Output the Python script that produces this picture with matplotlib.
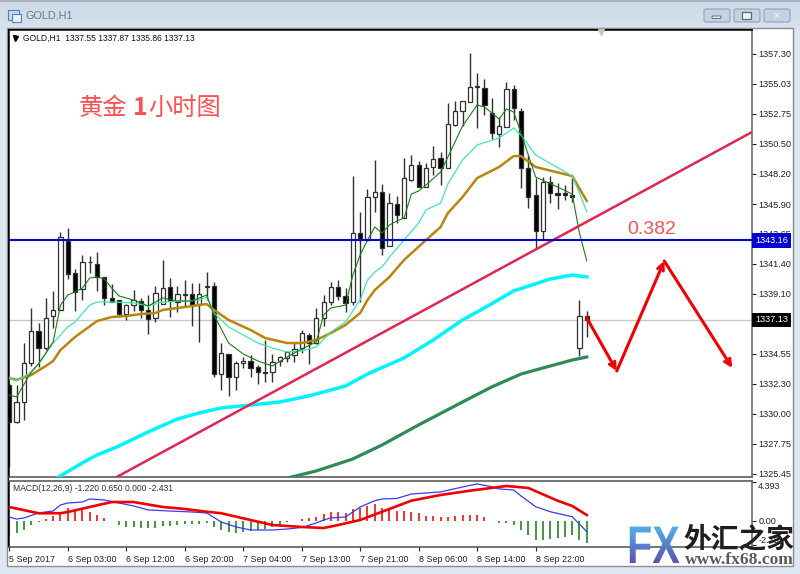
import numpy as np
import matplotlib
matplotlib.use("Agg")
import matplotlib.pyplot as plt
from matplotlib.patches import Rectangle, FancyBboxPatch, PathPatch
from matplotlib.textpath import TextPath
from matplotlib.font_manager import FontProperties
from matplotlib.transforms import Affine2D

plt.rcParams['font.family'] = ['Liberation Sans', 'DejaVu Sans']

# candles, one per hour, bar 0 = 5 Sep 2017
opens = [1332.20,1329.39,1330.91,1333.87,1336.29,1335.00,1337.43,1337.89,1343.12,1340.69,1339.48,1341.53,1341.37,1340.39,1338.80,1338.64,
         1337.58,1338.26,1338.57,1337.89,1337.28,1338.34,1339.63,1338.49,1339.10,1339.10,1338.34,1339.63,1339.71,1333.03,1334.55,1332.81,
         1333.87,1334.02,1333.56,1333.18,1333.18,1334.02,1334.25,1334.47,1335.00,1335.99,1335.38,1337.28,1338.49,1339.63,1338.95,1338.49,
         1343.72,1343.19,1346.45,1346.83,1342.74,1345.92,1344.86,1347.74,1348.88,1347.21,1348.73,1349.41,1348.65,1351.91,1352.97,1353.66,
         1354.79,1354.72,1352.82,1351.23,1351.76,1354.64,1352.97,1348.65,1346.60,1343.87,1347.59,1346.76,1346.76,1346.60,1335.00,1337.43]
highs = [1332.35,1332.20,1335.38,1338.04,1336.90,1338.80,1339.33,1343.80,1344.10,1340.99,1342.06,1341.98,1342.28,1340.39,1339.86,1338.64,
         1338.34,1339.40,1338.80,1339.02,1339.71,1341.68,1340.31,1339.71,1340.16,1339.93,1339.93,1340.77,1340.01,1335.38,1334.55,1334.02,
         1334.32,1334.47,1333.72,1335.61,1334.55,1334.40,1334.78,1335.46,1336.37,1336.14,1338.04,1339.02,1340.01,1340.16,1339.55,1348.05,
         1345.32,1347.06,1349.26,1347.44,1346.76,1346.53,1349.41,1349.64,1349.18,1349.03,1350.32,1349.87,1353.58,1353.73,1353.73,1357.37,
         1355.85,1355.40,1353.96,1352.52,1355.17,1354.95,1353.20,1349.64,1347.89,1347.97,1348.05,1347.52,1347.36,1347.89,1338.64,1337.81]
lows = [1325.98,1329.32,1329.55,1333.64,1333.56,1334.85,1336.52,1337.89,1340.24,1337.81,1338.64,1340.69,1339.33,1338.26,1338.49,1337.35,
        1337.13,1337.81,1337.28,1336.07,1336.98,1338.34,1337.35,1337.73,1338.11,1336.67,1335.46,1338.64,1332.81,1331.82,1331.37,1331.82,
        1333.49,1332.81,1332.27,1332.43,1332.43,1333.64,1333.94,1333.94,1334.63,1333.79,1335.31,1336.67,1338.26,1338.64,1337.73,1338.26,
        1338.49,1343.12,1345.32,1342.06,1342.74,1344.48,1344.86,1347.67,1347.21,1347.21,1348.12,1347.36,1348.65,1351.84,1351.84,1353.66,
        1351.69,1352.67,1350.85,1350.24,1351.76,1352.29,1347.14,1345.62,1342.51,1343.19,1346.00,1345.54,1346.23,1346.07,1334.40,1335.84]
closes = [1329.39,1330.91,1333.87,1336.29,1335.00,1337.28,1337.89,1343.39,1340.62,1339.25,1341.53,1341.53,1340.39,1338.80,1338.49,1337.58,
          1338.26,1338.64,1337.89,1337.20,1339.17,1339.55,1338.57,1339.10,1339.02,1338.26,1339.10,1339.71,1333.03,1334.63,1332.81,1333.87,
          1334.02,1333.49,1333.18,1333.11,1333.94,1334.32,1334.70,1334.93,1336.14,1335.38,1337.28,1338.49,1339.63,1338.95,1338.42,1343.72,
          1343.19,1346.45,1346.83,1342.59,1345.99,1345.09,1347.89,1348.88,1347.21,1348.65,1349.33,1348.65,1351.99,1352.97,1353.73,1354.79,
          1354.87,1353.43,1351.31,1351.84,1354.64,1353.20,1348.65,1346.45,1343.87,1347.59,1346.76,1346.60,1346.60,1346.45,1337.43,1337.13]

# moving averages, read at the bars listed
fast_bars = [0,1,3,4,6,7,8,9,10,11,12,13,14,15,17,19,21,23,25,27,28,30,32,34,36,38,40,42,43,44,46,47,48,49,50,51,52,53,54,55,56,57,59,60,62,64,65,67,68,69,70,72,75,77,78,79]
fast_ma = [1331.44,1331.29,1333.18,1333.79,1335.46,1338.26,1339.02,1339.25,1339.55,1340.31,1340.39,1340.24,1339.55,1338.95,1338.64,1338.19,1338.80,1338.57,1338.57,1339.02,1337.51,1335.38,1334.55,1334.02,1333.64,1334.32,1334.93,1335.46,1337.51,1338.04,1338.26,1340.54,1342.06,1343.19,1344.18,1343.72,1344.33,1344.63,1344.86,1346.68,1346.91,1347.36,1348.35,1349.49,1351.84,1353.43,1353.28,1352.37,1353.13,1352.90,1351.31,1347.97,1347.21,1346.68,1343.72,1341.60]
mid_bars = [0,1,3,4,6,8,9,11,12,14,17,19,21,24,26,27,28,30,32,34,36,38,40,42,44,46,48,49,50,51,52,54,56,57,59,60,62,64,67,69,70,72,77,78,79]
mid_ma = [1332.73,1332.50,1333.18,1333.79,1335.38,1336.60,1336.98,1338.26,1338.49,1338.49,1338.42,1338.19,1338.49,1338.57,1338.64,1338.87,1337.66,1336.60,1335.99,1335.38,1335.00,1334.70,1334.78,1335.08,1336.22,1336.98,1338.64,1340.16,1340.77,1341.15,1341.90,1343.19,1344.48,1345.47,1346.00,1347.44,1349.26,1350.40,1350.93,1351.69,1351.15,1349.64,1348.05,1346.76,1345.32]
gold_bars = [0,1,3,5,6,7,9,12,14,16,18,20,21,24,27,28,30,33,35,38,40,42,44,46,48,49,50,52,54,57,59,60,62,64,67,69,70,72,77,79]
gold_ma = [1332.73,1332.58,1332.96,1333.64,1334.02,1334.85,1335.84,1337.05,1337.35,1337.43,1337.58,1337.66,1337.89,1338.11,1338.34,1337.89,1337.13,1336.37,1335.76,1335.38,1335.38,1335.61,1336.14,1336.75,1337.66,1338.64,1339.40,1340.39,1341.68,1343.19,1344.18,1345.24,1346.45,1347.89,1348.73,1349.56,1349.56,1348.73,1348.05,1346.15]
cyan_bars = [6,7,10,12,15,19,23,26,29,33,37,41,46,49,54,58,62,65,69,74,77,79]
cyan_ma = [1325.00,1325.30,1326.29,1326.89,1327.57,1328.64,1329.62,1330.08,1330.46,1330.68,1330.91,1331.37,1332.12,1333.03,1334.25,1335.61,1337.13,1338.04,1339.33,1340.24,1340.54,1340.39]
slow_bars = [37,42,47,51,56,62,66,70,74,77,79]
slow_ma = [1325.00,1325.68,1326.59,1327.65,1329.17,1330.91,1332.05,1333.03,1333.64,1334.09,1334.32]

# hand drawn objects on the chart
fib_level = 1343.16
last_price = 1337.13
trend_bars = [14.46, 101.6]
trend_prices = [1325.15, 1351.38]
arrow_bars = [79.0, 83.1, 89.6, 98.9]
arrow_prices = [1337.28, 1333.26, 1341.60, 1333.49]

# macd panel
macd_hist = [-1.57,-1.38,-1.01,-0.45,-0.08,0.19,0.60,0.75,1.43,1.16,1.31,1.01,0.67,0.30,0.0,-0.45,-0.64,-0.67,-0.75,-0.82,-0.75,-0.53,-0.53,-0.42,-0.37,-0.34,-0.30,-0.19,-0.71,-1.01,
             -1.20,-1.31,-1.24,-1.12,-1.04,-0.93,-0.67,-0.45,-0.08,0.03,0.19,0.30,0.48,0.79,0.98,0.98,0.87,1.31,1.43,1.72,1.88,1.43,1.31,1.16,1.09,0.98,0.87,0.60,0.60,0.42,
             0.48,0.56,0.67,0.67,0.67,0.42,0.03,-0.19,-0.26,-0.48,-1.01,-1.61,-2.13,-2.13,-2.02,-1.91,-1.83,-1.57,-2.13,-2.43]
macd_bars = [0,1,2,4,6,7,8,10,11,13,15,17,19,22,25,27,29,31,33,36,38,40,42,43,44,46,48,50,51,53,55,59,62,64,66,67,69,70,72,74,77,79]
macd_line = [0.45,0.22,0.34,0.90,1.12,1.80,2.02,2.13,2.47,2.36,2.02,1.69,1.24,1.12,1.01,0.90,-0.11,-0.67,-1.01,-1.01,-0.90,-0.73,-0.22,0.11,0.34,0.45,1.57,2.28,2.47,2.53,3.03,3.26,3.82,4.16,3.85,3.60,3.48,2.81,1.61,1.04,0.48,-1.20]
signal_bars = [0,4,7,8,11,14,17,21,24,27,29,33,36,40,43,45,48,52,55,59,63,67,68,71,75,77,79]
signal_line = [1.57,0.87,0.87,1.01,1.57,2.13,2.13,1.57,1.35,1.04,0.87,0.11,-0.45,-0.67,-0.79,-0.45,0.11,1.35,2.28,2.92,3.40,3.82,3.93,3.71,2.28,1.69,0.67]

price_ticks = [1357.30,1355.03,1352.75,1350.50,1348.20,1345.90,1343.65,1341.40,1339.10,1336.85,1334.55,1332.30,1330.00,1327.75,1325.45]
price_labels = ['%.2f' % p for p in price_ticks]
time_ticks = [0,8,16,24,32,40,48,56,64,72]
time_labels = ['5 Sep 2017','6 Sep 03:00','6 Sep 12:00','6 Sep 20:00','7 Sep 04:00','7 Sep 13:00','7 Sep 21:00','8 Sep 06:00','8 Sep 14:00','8 Sep 22:00']
macd_ticks = [4.393, 0.0, -2.75]
macd_labels = ['4.393', '0.00', '-2.75']

W, H = 800, 574
fig = plt.figure(figsize=(8, 5.74), dpi=100, facecolor='#dce7f3')

def box(l, t, r, b):
    return [l / W, 1 - b / H, (r - l) / W, (b - t) / H]

# window chrome, pixel coordinates
bg = fig.add_axes([0, 0, 1, 1], zorder=-1)
bg.set_xlim(0, W)
bg.set_ylim(H, 0)
bg.axis('off')
grad = np.linspace(0, 1, 30).reshape(-1, 1, 1) * np.array([[[0.05, 0.035, 0.02]]]) + np.array([[[0.80, 0.85, 0.91]]])
bg.imshow(grad, extent=[0, W, 30, 0], aspect='auto', zorder=0)
bg.set_xlim(0, W)
bg.set_ylim(H, 0)
bg.add_patch(Rectangle((0, 0), W, 2, fc='#aab4bf', ec='none', zorder=1))
bg.add_patch(Rectangle((6.5, 27.5), 786, 538, fc='white', ec='#8d8d8d', lw=1, zorder=1))
bg.add_patch(Rectangle((8, 29), 745, 1.2, fc='black', ec='none', zorder=2))
bg.add_patch(Rectangle((8, 29), 1.2, 518, fc='black', ec='none', zorder=2))
bg.text(25, 16, 'GOLD,H1', fontsize=7.8, color='#66768a', va='center')
bg.add_patch(Rectangle((8, 10), 11, 10, fc='#c9d9ea', ec='#4f81b5', lw=0.8, zorder=2))
bg.add_patch(Rectangle((12, 14), 9, 8, fc='#e8f0f8', ec='#4f81b5', lw=0.8, zorder=2))
for left in [703, 733, 763]:
    bg.add_patch(FancyBboxPatch((left + 1, 9), 26, 13, boxstyle='round,pad=0,rounding_size=2', fc='#c4d2e2', ec='#8fa3b8', lw=0.8, zorder=2))
bg.add_patch(FancyBboxPatch((712, 16), 9, 2.5, boxstyle='round,pad=0,rounding_size=1', fc='#eef2f6', ec='#5e6a76', lw=0.7, zorder=3))
bg.add_patch(Rectangle((742, 12), 9, 6.5, fc='#eef2f6', ec='#5e6a76', lw=0.9, zorder=3))
bg.text(777, 15.5, '\u2715', fontsize=7, color='#eef2f6', ha='center', va='center', family='DejaVu Sans', zorder=3,
        fontweight='bold')

# main chart
ax = fig.add_axes(box(9, 30, 752, 477), facecolor='white')
ax.set_xlim(-0.04, 101.6)
ax.set_ylim(1325.22, 1359.12)
bars = np.arange(len(closes))
bottoms = np.minimum(opens, closes)
tops = np.maximum(opens, closes)
colors = ['white' if c > o else 'black' for o, c in zip(opens, closes)]

ax.axhline(last_price, color='#c8c8c8', lw=1, zorder=1)
ax.vlines(bars, lows, highs, color='#303030', lw=1.0, zorder=2)
ax.bar(bars, tops - bottoms, bottom=bottoms, width=0.58, color=colors, edgecolor='#303030', linewidth=0.9, zorder=3)

ax.plot(cyan_bars, cyan_ma, color='#00f4ff', lw=2.5, zorder=4)
ax.plot(slow_bars, slow_ma, color='#2e8b57', lw=2.3, zorder=4)
ax.plot(gold_bars, gold_ma, color='#b8860b', lw=1.8, zorder=4)
ax.plot(mid_bars, mid_ma, color='#40e6b4', lw=0.9, zorder=4)
ax.plot(fast_bars, fast_ma, color='#1b7d1b', lw=0.8, zorder=4)
ax.plot(trend_bars, trend_prices, color='#e2264f', lw=1.8, zorder=5)
ax.axhline(fib_level, color='#0000d8', lw=1.5, zorder=6)

for i in range(3):
    ax.annotate('', xy=(arrow_bars[i + 1], arrow_prices[i + 1]), xytext=(arrow_bars[i], arrow_prices[i]), zorder=7,
                arrowprops=dict(arrowstyle='->', color='#f00000', lw=2.2, mutation_scale=11, shrinkA=0, shrinkB=0))

ax.yaxis.tick_right()
ax.set_yticks(price_ticks)
ax.set_yticklabels(price_labels)
ax.tick_params(axis='y', labelsize=6.6, length=3, width=0.8, pad=1.5, colors='#202020')
ax.set_xticks([])
for side, col in [('top', 'black'), ('left', 'black'), ('right', '#606060'), ('bottom', '#505050')]:
    ax.spines[side].set_color(col)
    ax.spines[side].set_linewidth(1.1)

# current price tags, sit on the axis
yt = ax.get_yaxis_transform()
ax.text(1.004, fib_level, '%.2f' % fib_level, transform=yt, color='white', fontsize=6.6, va='center', zorder=9, clip_on=False,
        bbox=dict(fc='#0000d0', ec='none', pad=2.0))
ax.text(1.004, last_price, '%.2f' % last_price, transform=yt, color='white', fontsize=6.6, va='center', zorder=9, clip_on=False,
        bbox=dict(fc='black', ec='none', pad=2.0))

# macd
mx = fig.add_axes(box(9, 481, 752, 547), facecolor='white')
mx.set_xlim(-0.04, 101.6)
mx.set_ylim(-2.92, 4.49)
hist_colors = ['#e80000' if v > 0 else '#0a7d0a' for v in macd_hist]
mx.vlines(bars, 0, macd_hist, color=hist_colors, lw=1.1, zorder=2)
mx.plot(macd_bars, macd_line, color='#3a3af0', lw=0.9, zorder=3)
mx.plot(signal_bars, signal_line, color='#f00000', lw=1.9, zorder=4)
mx.yaxis.tick_right()
mx.set_yticks(macd_ticks)
mx.set_yticklabels(macd_labels)
mx.tick_params(axis='y', labelsize=6.6, length=3, width=0.8, pad=1.5, colors='#202020')
mticks = mx.get_yticklabels()
mticks[0].set_va('top')
mticks[2].set_va('bottom')
mx.set_xticks(time_ticks)
mx.set_xticklabels(time_labels, ha='left')
mx.tick_params(axis='x', labelsize=6.4, length=3, width=0.8, pad=3, colors='#202020')
for side, col in [('top', '#505050'), ('left', 'black'), ('right', '#606060'), ('bottom', '#505050')]:
    mx.spines[side].set_color(col)
    mx.spines[side].set_linewidth(1.1)

# overlay for captions and watermark
ov = fig.add_axes([0, 0, 1, 1], zorder=10)
ov.patch.set_alpha(0)
ov.axis('off')
ov.plot([15], [38], marker='v', color='black', ms=3.6)
ov.plot([601], [32], marker='v', color='#c4c4c4', ms=4)
ov.text(23, 38, 'GOLD,H1  1337.55 1337.87 1335.86 1337.13', fontsize=6.15, color='#101010', va='center')
ov.text(13, 488.5, 'MACD(12,26,9) -1.220 0.650 0.000 -2.431', fontsize=6.15, color='#303030', va='center')

red_txt = '#ff5050'
cjk = ['Noto Sans CJK SC', 'DejaVu Sans']
ov.text(79, 108, '\u9ec4\u91d1', fontsize=17.5, color=red_txt, va='center', family=cjk, fontweight='light')
ov.text(133, 108, '1', fontsize=18, color=red_txt, va='center', family=cjk, fontweight='bold')
ov.text(148, 108, '\u5c0f\u65f6\u56fe', fontsize=17.5, color=red_txt, va='center', family=cjk, fontweight='light')
ov.text(627, 229, '0.382', fontsize=14, color=red_txt, va='center')

# FX logo with a vertical gradient
fx_path = TextPath((0, 0), 'FX', size=53, prop=FontProperties(family='Liberation Sans', weight='bold'))
ramp = np.linspace(0, 1, 64).reshape(-1, 1)
top_col = np.array([0.32, 0.70, 0.92])
bot_col = np.array([0.36, 0.33, 0.68])
fx_img = (top_col + (bot_col - top_col) * ramp[..., None]).reshape(64, 1, 3)
im = ov.imshow(fx_img, extent=[625, 682, 563, 525], aspect='auto', zorder=3)
ov.set_xlim(0, W)
ov.set_ylim(H, 0)
fx_patch = PathPatch(fx_path, fc='none', ec='none',
                     transform=Affine2D().scale(0.78, -1.0).translate(627, 563) + ov.transData)
ov.add_patch(fx_patch)
im.set_clip_path(fx_patch)

ov.text(683, 539.5, '\u5916\u6c47\u4e4b\u5bb6', fontsize=20, color='#1e1e1e', va='center', family=cjk, fontweight='bold', zorder=4)
ov.text(685, 560.5, 'www.fx68.com', fontsize=12.6, color='#5a5a5a', va='center', family='Liberation Serif', fontweight='bold', zorder=4)

fig.savefig('out.png', dpi=100, facecolor=fig.get_facecolor())
